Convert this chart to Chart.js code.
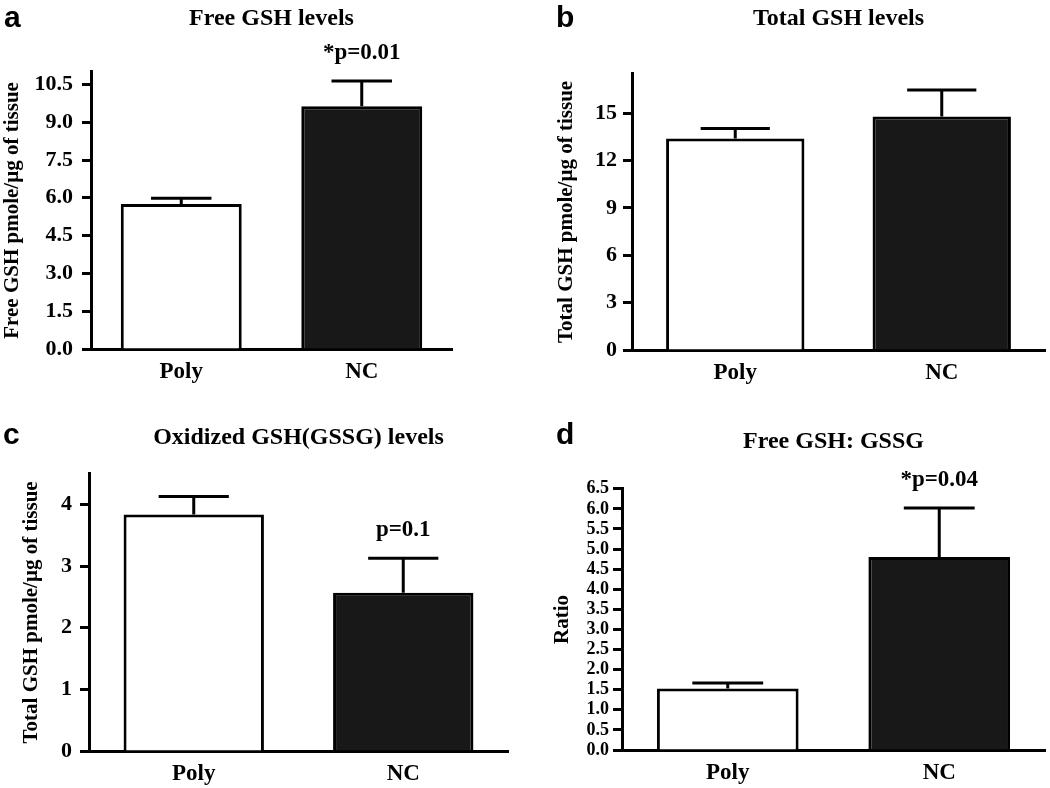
<!DOCTYPE html>
<html>
<head>
<meta charset="utf-8">
<script src="https://cdn.jsdelivr.net/npm/chart.js@4.4.1/dist/chart.umd.min.js"></script>
<style>
  body { margin: 0; background: #fff; }
  #wrap { position: relative; width: 1050px; height: 788px; background: #fff; }
  .panel { position: absolute; width: 525px; height: 394px; }
</style>
</head>
<body>
<div id="wrap">
  <div class="panel" style="left:0;top:0"><canvas id="chartA"></canvas></div>
  <div class="panel" style="left:525px;top:0"><canvas id="chartB"></canvas></div>
  <div class="panel" style="left:0;top:394px"><canvas id="chartC"></canvas></div>
  <div class="panel" style="left:525px;top:394px"><canvas id="chartD"></canvas></div>
</div>
<script>
// data
const groups = ["Poly", "NC"];

const freeGsh = [5.75, 9.63];
const freeGshErr = [0.23, 1.0];
const freeGshTicks = [0, 1.5, 3, 4.5, 6, 7.5, 9, 10.5];

const totalGsh = [13.4, 14.8];
const totalGshErr = [0.63, 1.68];
const totalGshTicks = [0, 3, 6, 9, 12, 15];

const gssg = [3.84, 2.57];
const gssgErr = [0.29, 0.56];
const gssgTicks = [0, 1, 2, 3, 4];

const ratio = [1.53, 4.8];
const ratioErr = [0.14, 1.22];
const ratioTicks = [0, 0.5, 1, 1.5, 2, 2.5, 3, 3.5, 4, 4.5, 5, 5.5, 6, 6.5];

const serif = "'Liberation Serif', 'Times New Roman', serif";

// error bars (upper only), p-value text and the panel letter
const errorBars = {
  id: "errorBars",
  afterDatasetsDraw(chart, args, opts) {
    const ctx = chart.ctx;
    const y = chart.scales.y;
    const meta = chart.getDatasetMeta(0);
    ctx.save();
    ctx.strokeStyle = "#000";
    ctx.lineWidth = 3;
    meta.data.forEach((bar, i) => {
      const v = opts.values[i];
      const top = y.getPixelForValue(v + opts.errors[i]);
      const half = bar.width / 4;
      ctx.beginPath();
      ctx.moveTo(bar.x, y.getPixelForValue(v));
      ctx.lineTo(bar.x, top);
      ctx.moveTo(bar.x - half, top);
      ctx.lineTo(bar.x + half, top);
      ctx.stroke();
    });
    if (opts.pLabel) {
      const last = meta.data.length - 1;
      const bar = meta.data[last];
      const top = y.getPixelForValue(opts.values[last] + opts.errors[last]);
      ctx.fillStyle = "#000";
      ctx.font = "bold 23px " + serif;
      ctx.textAlign = "center";
      ctx.textBaseline = "middle";
      ctx.fillText(opts.pLabel, bar.x, top - 28);
    }
    ctx.fillStyle = "#000";
    ctx.font = "bold 30px 'Liberation Sans', Arial, sans-serif";
    ctx.textAlign = "left";
    ctx.textBaseline = "alphabetic";
    ctx.fillText(opts.letter, opts.letterX, opts.letterY);
    ctx.restore();
  }
};

function makePanel(id, cfg) {
  return new Chart(document.getElementById(id), {
    type: "bar",
    data: {
      labels: groups,
      datasets: [{
        data: cfg.values,
        backgroundColor: ["#ffffff", "#181818"],
        borderColor: "#000",
        borderWidth: 3,
        barPercentage: 0.67,
        categoryPercentage: 1
      }]
    },
    options: {
      responsive: true,
      maintainAspectRatio: false,
      animation: false,
      layout: { padding: { left: 0, right: cfg.right, top: 0, bottom: 0 } },
      plugins: {
        legend: { display: false },
        tooltip: { enabled: false },
        title: {
          display: true,
          text: cfg.title,
          fullSize: false,
          color: "#000",
          font: { family: serif, size: 24, weight: "bold" },
          padding: { top: cfg.titleTop, bottom: cfg.titleBottom }
        },
        errorBars: {
          values: cfg.values,
          errors: cfg.errors,
          pLabel: cfg.pLabel,
          letter: cfg.letter,
          letterX: cfg.letterX,
          letterY: cfg.letterY
        }
      },
      scales: {
        x: {
          grid: { display: false, drawTicks: false },
          border: { display: true, color: "#000", width: 3 },
          ticks: { color: "#000", padding: 9, font: { family: serif, size: 23, weight: "bold" } },
          afterFit: s => { s.height = cfg.xHeight; }
        },
        y: {
          min: 0,
          max: cfg.max,
          afterBuildTicks: a => { a.ticks = cfg.ticks.map(v => ({ value: v })); },
          afterFit: s => { s.width = cfg.yWidth; },
          grid: { drawOnChartArea: false, drawTicks: true, tickLength: 9, tickWidth: 3, tickColor: "#000" },
          border: { display: true, color: "#000", width: 3 },
          ticks: {
            color: "#000",
            autoSkip: false,
            padding: cfg.tickPad,
            font: { family: serif, size: cfg.tickSize, weight: "bold" },
            callback: v => v.toFixed(cfg.decimals)
          },
          title: {
            display: true,
            text: cfg.yTitle,
            color: "#000",
            font: { family: serif, size: 21, weight: "bold" },
            padding: { top: cfg.yTitlePad, bottom: 0 }
          }
        }
      }
    },
    plugins: [errorBars]
  });
}

makePanel("chartA", {
  values: freeGsh, errors: freeGshErr, ticks: freeGshTicks, max: 11, decimals: 1,
  title: "Free GSH levels", yTitle: "Free GSH pmole/\u00b5g of tissue", pLabel: "*p=0.01",
  letter: "a", letterX: 4, letterY: 27,
  yWidth: 91, right: 73, xHeight: 45, titleTop: 4, titleBottom: 39, yTitlePad: 0,
  tickSize: 22, tickPad: 9
});

makePanel("chartB", {
  values: totalGsh, errors: totalGshErr, ticks: totalGshTicks, max: 17.5, decimals: 0,
  title: "Total GSH levels", yTitle: "Total GSH pmole/\u00b5g of tissue", pLabel: "",
  letter: "b", letterX: 31, letterY: 27,
  yWidth: 107, right: 5, xHeight: 44, titleTop: 4, titleBottom: 41, yTitlePad: 29,
  tickSize: 22, tickPad: 6
});

makePanel("chartC", {
  values: gssg, errors: gssgErr, ticks: gssgTicks, max: 4.5, decimals: 0,
  title: "Oxidized GSH(GSSG) levels", yTitle: "Total GSH pmole/\u00b5g of tissue", pLabel: "p=0.1",
  letter: "c", letterX: 3, letterY: 50,
  yWidth: 89, right: 17, xHeight: 37, titleTop: 29, titleBottom: 22, yTitlePad: 19,
  tickSize: 22, tickPad: 8
});

makePanel("chartD", {
  values: ratio, errors: ratioErr, ticks: ratioTicks, max: 6.5, decimals: 1,
  title: "Free GSH: GSSG", yTitle: "Ratio", pLabel: "*p=0.04",
  letter: "d", letterX: 31, letterY: 50,
  yWidth: 97, right: 5, xHeight: 38, titleTop: 33, titleBottom: 33, yTitlePad: 25,
  tickSize: 18, tickPad: 4
});
</script>
</body>
</html>
